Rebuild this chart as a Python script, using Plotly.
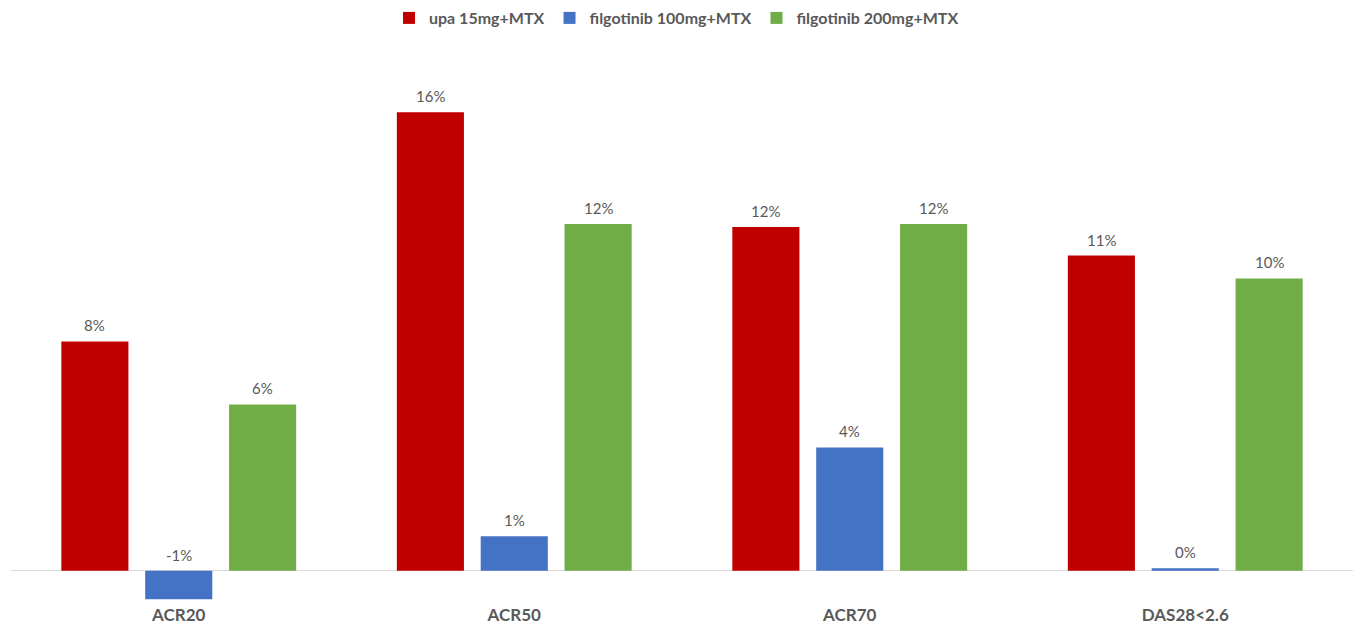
import plotly.graph_objects as go

# Difference versus comparator, by endpoint
categories = ["ACR20", "ACR50", "ACR70", "DAS28<2.6"]
series_names = ["upa 15mg+MTX", "filgotinib 100mg+MTX", "filgotinib 200mg+MTX"]
upa_15 = [0.080, 0.160, 0.120, 0.110]
filgo_100 = [-0.010, 0.012, 0.043, 0.0008]
filgo_200 = [0.058, 0.121, 0.121, 0.102]

series_values = [upa_15, filgo_100, filgo_200]
colors = ["#C00000", "#4472C4", "#70AD47"]

FONT = "Lato"
GREY = "#595959"

fig = go.Figure()
for name, vals, col in zip(series_names, series_values, colors):
    fig.add_trace(go.Bar(
        name=name,
        x=categories,
        y=vals,
        marker=dict(color=col, line=dict(width=0)),
        hoverinfo="x+y",
    ))

# Value labels sit just above the bar top (or above the baseline for negatives)
slot = 0.25  # width of one bar slot in category units (bargap 0.25, 3 series)
annotations = []
for j, vals in enumerate(series_values):
    for i, v in enumerate(vals):
        annotations.append(dict(
            x=i + (j - 1) * slot,
            y=max(v, 0),
            xref="x", yref="y",
            text=f"{v:.0%}".replace("-0%", "0%"),
            showarrow=False,
            yanchor="bottom",
            yshift=5,
            font=dict(family=FONT, size=15, color=GREY),
        ))

fig.update_layout(
    width=1353, height=625,
    margin=dict(l=11, r=0, t=55, b=24),
    paper_bgcolor="white",
    plot_bgcolor="white",
    barmode="group",
    bargap=0.25,
    bargroupgap=0.2,
    font=dict(family=FONT, color=GREY),
    showlegend=True,
    legend=dict(
        orientation="h",
        xref="container", yref="container",
        x=0.5, xanchor="center",
        y=1 - 18 / 625, yanchor="middle",
        font=dict(family=FONT, size=16, color=GREY, weight="bold"),
        itemwidth=30,
        traceorder="normal",
    ),
    annotations=annotations,
    xaxis=dict(
        type="category",
        showline=False,
        showgrid=False,
        ticks="",
        ticklabelstandoff=2,
        tickfont=dict(family=FONT, size=17, color=GREY, weight="bold"),
        fixedrange=True,
    ),
    yaxis=dict(
        range=[-0.0106, 0.18],
        showgrid=False,
        showticklabels=False,
        showline=False,
        zeroline=True,
        zerolinecolor="#D9D9D9",
        zerolinewidth=1,
        fixedrange=True,
    ),
)

fig.write_html("out.html")
